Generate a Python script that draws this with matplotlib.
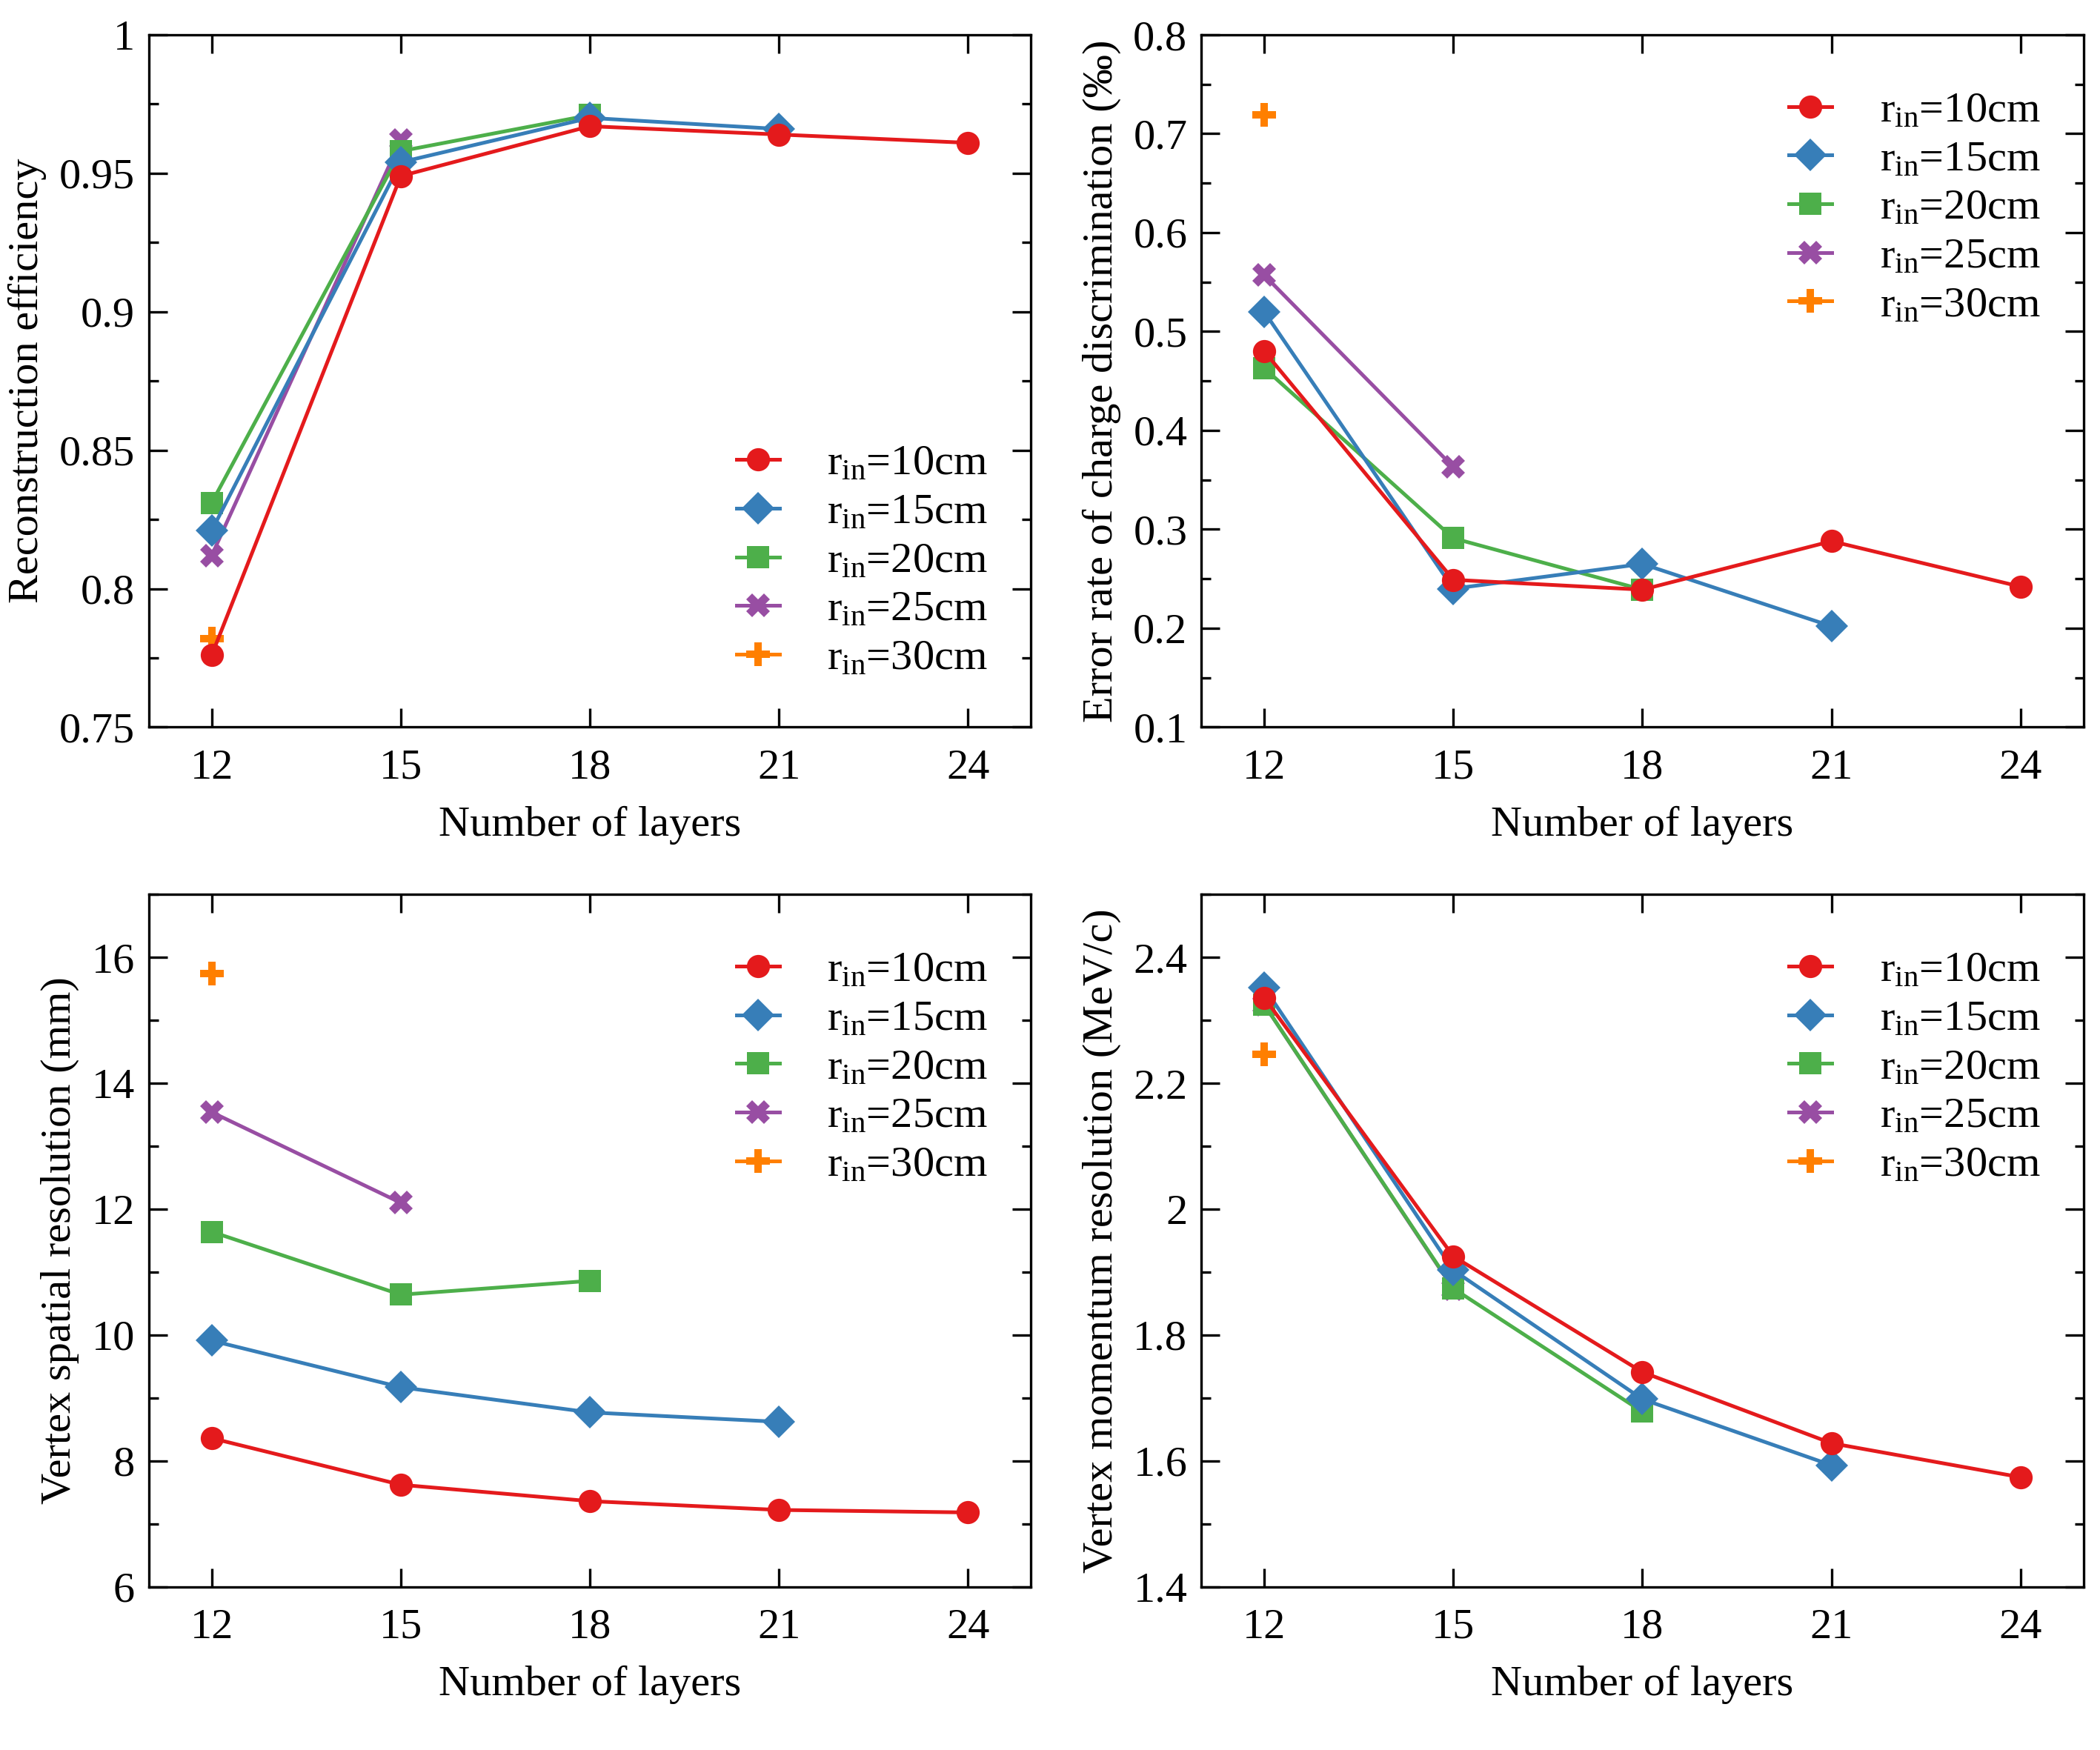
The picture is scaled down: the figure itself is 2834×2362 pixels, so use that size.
import matplotlib
matplotlib.use("Agg")
import matplotlib.pyplot as plt
from matplotlib.ticker import MultipleLocator, FuncFormatter

plt.rcParams['font.family'] = ['Liberation Serif', 'DejaVu Serif']
plt.rcParams['mathtext.fontset'] = 'custom'
plt.rcParams['mathtext.rm'] = 'Liberation Serif'
plt.rcParams['mathtext.it'] = 'Liberation Serif:italic'

# ---------------- data ----------------
layers = [12, 15, 18, 21, 24]
labels = ["10", "15", "20", "25", "30"]

eff_r10 = [0.776, 0.949, 0.967, 0.964, 0.961]
eff_r15 = [0.821, 0.954, 0.970, 0.966]
eff_r20 = [0.831, 0.958, 0.971]
eff_r25 = [0.812, 0.962]
eff_r30 = [0.782]

err_r10 = [0.480, 0.249, 0.239, 0.288, 0.242]
err_r15 = [0.520, 0.240, 0.265, 0.202]
err_r20 = [0.463, 0.291, 0.239]
err_r25 = [0.557, 0.363]
err_r30 = [0.719]

vsp_r10 = [8.36, 7.62, 7.36, 7.22, 7.18]
vsp_r15 = [9.91, 9.17, 8.77, 8.62]
vsp_r20 = [11.64, 10.64, 10.86]
vsp_r25 = [13.54, 12.10]
vsp_r30 = [15.74]

vmo_r10 = [2.336, 1.925, 1.741, 1.628, 1.574]
vmo_r15 = [2.352, 1.903, 1.698, 1.593]
vmo_r20 = [2.325, 1.874, 1.678]
vmo_r25 = [2.325, 1.873]
vmo_r30 = [2.246]

colors = ['#e41a1c', '#377eb8', '#4daf4a', '#984ea3', '#ff7f00']
markers = ['o', 'D', 's', 'X', 'P']
msizes = [7.5, 7.5, 7, 7.5, 7.5]

panels = [
    dict(series=[eff_r10, eff_r15, eff_r20, eff_r25, eff_r30],
         ylabel='Reconstruction efficiency', ylim=(0.75, 1.0), major=0.05, minor=0.025,
         legloc='lower right', legbbox=(0.985, 0.027)),
    dict(series=[err_r10, err_r15, err_r20, err_r25, err_r30],
         ylabel='Error rate of charge discrimination (\u2030)', ylim=(0.1, 0.8), major=0.1, minor=0.05,
         legloc='upper right', legbbox=(0.985, 0.962)),
    dict(series=[vsp_r10, vsp_r15, vsp_r20, vsp_r25, vsp_r30],
         ylabel='Vertex spatial resolution (mm)', ylim=(6, 17), major=2, minor=1,
         legloc='upper right', legbbox=(0.985, 0.962)),
    dict(series=[vmo_r10, vmo_r15, vmo_r20, vmo_r25, vmo_r30],
         ylabel='Vertex momentum resolution (MeV/c)', ylim=(1.4, 2.5), major=0.2, minor=0.1,
         legloc='upper right', legbbox=(0.985, 0.962)),
]

fig = plt.figure(figsize=(2834 / 300, 2362 / 300), dpi=300)
lefts = [0.0708, 0.572]
width = 0.4202
bottoms = [0.5845, 0.0933]
height = 0.3956

fs = 14
for i, p in enumerate(panels):
    ax = fig.add_axes([lefts[i % 2], bottoms[i // 2], width, height])
    handles = [None] * 5
    for k in reversed(range(5)):
        ys = p['series'][k]
        h, = ax.plot(layers[:len(ys)], ys, color=colors[k], marker=markers[k],
                     markersize=msizes[k], linewidth=1.2, markeredgewidth=0,
                     label=r'$\mathrm{r_{in}}$=' + labels[k] + 'cm')
        handles[k] = h
    ax.set_xlim(11, 25)
    ax.set_ylim(*p['ylim'])
    ax.set_xticks(layers)
    ax.yaxis.set_major_locator(MultipleLocator(p['major']))
    ax.yaxis.set_minor_locator(MultipleLocator(p['minor']))
    ax.yaxis.set_major_formatter(FuncFormatter(lambda v, pos: '%g' % round(v, 4)))
    ax.tick_params(which='both', direction='in', top=True, right=True,
                   labelsize=fs, width=0.8)
    ax.tick_params(which='major', length=6)
    ax.tick_params(axis='x', which='major', pad=7)
    ax.tick_params(axis='y', which='major', pad=4.5)
    ax.tick_params(which='minor', length=3)
    for s in ax.spines.values():
        s.set_linewidth(0.8)
    ax.set_xlabel('Number of layers', fontsize=fs, labelpad=6)
    ax.set_ylabel(p['ylabel'], fontsize=fs, labelpad=4)
    ax.legend(handles=handles, loc=p['legloc'], bbox_to_anchor=p['legbbox'],
              frameon=False, fontsize=fs, handlelength=1.0, handletextpad=1.1,
              labelspacing=0.22, borderaxespad=0.3)

fig.savefig('out.png', dpi=300)
